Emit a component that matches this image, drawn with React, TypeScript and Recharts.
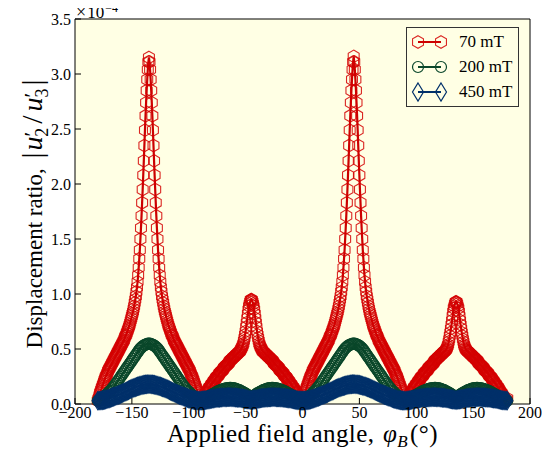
import { LineChart, Line, XAxis, YAxis, CartesianGrid, Legend } from 'recharts'

// field angle, degrees (0.5 deg sampling for the 70 mT sweep)
const anglesFine = [
  -180, -179.5, -179, -178.5, -178, -177.5, -177, -176.5, -176, -175.5, -175, -174.5, -174, -173.5, -173, -172.5, -172, -171.5, -171, -170.5,
  -170, -169.5, -169, -168.5, -168, -167.5, -167, -166.5, -166, -165.5, -165, -164.5, -164, -163.5, -163, -162.5, -162, -161.5, -161, -160.5,
  -160, -159.5, -159, -158.5, -158, -157.5, -157, -156.5, -156, -155.5, -155, -154.5, -154, -153.5, -153, -152.5, -152, -151.5, -151, -150.5,
  -150, -149.5, -149, -148.5, -148, -147.5, -147, -146.5, -146, -145.5, -145, -144.5, -144, -143.5, -143, -142.5, -142, -141.5, -141, -140.5,
  -140, -139.5, -139, -138.5, -138, -137.5, -137, -136.5, -136, -135.5, -135, -134.5, -134, -133.5, -133, -132.5, -132, -131.5, -131, -130.5,
  -130, -129.5, -129, -128.5, -128, -127.5, -127, -126.5, -126, -125.5, -125, -124.5, -124, -123.5, -123, -122.5, -122, -121.5, -121, -120.5,
  -120, -119.5, -119, -118.5, -118, -117.5, -117, -116.5, -116, -115.5, -115, -114.5, -114, -113.5, -113, -112.5, -112, -111.5, -111, -110.5,
  -110, -109.5, -109, -108.5, -108, -107.5, -107, -106.5, -106, -105.5, -105, -104.5, -104, -103.5, -103, -102.5, -102, -101.5, -101, -100.5,
  -100, -99.5, -99, -98.5, -98, -97.5, -97, -96.5, -96, -95.5, -95, -94.5, -94, -93.5, -93, -92.5, -92, -91.5, -91, -90.5,
  -90, -89.5, -89, -88.5, -88, -87.5, -87, -86.5, -86, -85.5, -85, -84.5, -84, -83.5, -83, -82.5, -82, -81.5, -81, -80.5,
  -80, -79.5, -79, -78.5, -78, -77.5, -77, -76.5, -76, -75.5, -75, -74.5, -74, -73.5, -73, -72.5, -72, -71.5, -71, -70.5,
  -70, -69.5, -69, -68.5, -68, -67.5, -67, -66.5, -66, -65.5, -65, -64.5, -64, -63.5, -63, -62.5, -62, -61.5, -61, -60.5,
  -60, -59.5, -59, -58.5, -58, -57.5, -57, -56.5, -56, -55.5, -55, -54.5, -54, -53.5, -53, -52.5, -52, -51.5, -51, -50.5,
  -50, -49.5, -49, -48.5, -48, -47.5, -47, -46.5, -46, -45.5, -45, -44.5, -44, -43.5, -43, -42.5, -42, -41.5, -41, -40.5,
  -40, -39.5, -39, -38.5, -38, -37.5, -37, -36.5, -36, -35.5, -35, -34.5, -34, -33.5, -33, -32.5, -32, -31.5, -31, -30.5,
  -30, -29.5, -29, -28.5, -28, -27.5, -27, -26.5, -26, -25.5, -25, -24.5, -24, -23.5, -23, -22.5, -22, -21.5, -21, -20.5,
  -20, -19.5, -19, -18.5, -18, -17.5, -17, -16.5, -16, -15.5, -15, -14.5, -14, -13.5, -13, -12.5, -12, -11.5, -11, -10.5,
  -10, -9.5, -9, -8.5, -8, -7.5, -7, -6.5, -6, -5.5, -5, -4.5, -4, -3.5, -3, -2.5, -2, -1.5, -1, -0.5,
  0, 0.5, 1, 1.5, 2, 2.5, 3, 3.5, 4, 4.5, 5, 5.5, 6, 6.5, 7, 7.5, 8, 8.5, 9, 9.5,
  10, 10.5, 11, 11.5, 12, 12.5, 13, 13.5, 14, 14.5, 15, 15.5, 16, 16.5, 17, 17.5, 18, 18.5, 19, 19.5,
  20, 20.5, 21, 21.5, 22, 22.5, 23, 23.5, 24, 24.5, 25, 25.5, 26, 26.5, 27, 27.5, 28, 28.5, 29, 29.5,
  30, 30.5, 31, 31.5, 32, 32.5, 33, 33.5, 34, 34.5, 35, 35.5, 36, 36.5, 37, 37.5, 38, 38.5, 39, 39.5,
  40, 40.5, 41, 41.5, 42, 42.5, 43, 43.5, 44, 44.5, 45, 45.5, 46, 46.5, 47, 47.5, 48, 48.5, 49, 49.5,
  50, 50.5, 51, 51.5, 52, 52.5, 53, 53.5, 54, 54.5, 55, 55.5, 56, 56.5, 57, 57.5, 58, 58.5, 59, 59.5,
  60, 60.5, 61, 61.5, 62, 62.5, 63, 63.5, 64, 64.5, 65, 65.5, 66, 66.5, 67, 67.5, 68, 68.5, 69, 69.5,
  70, 70.5, 71, 71.5, 72, 72.5, 73, 73.5, 74, 74.5, 75, 75.5, 76, 76.5, 77, 77.5, 78, 78.5, 79, 79.5,
  80, 80.5, 81, 81.5, 82, 82.5, 83, 83.5, 84, 84.5, 85, 85.5, 86, 86.5, 87, 87.5, 88, 88.5, 89, 89.5,
  90, 90.5, 91, 91.5, 92, 92.5, 93, 93.5, 94, 94.5, 95, 95.5, 96, 96.5, 97, 97.5, 98, 98.5, 99, 99.5,
  100, 100.5, 101, 101.5, 102, 102.5, 103, 103.5, 104, 104.5, 105, 105.5, 106, 106.5, 107, 107.5, 108, 108.5, 109, 109.5,
  110, 110.5, 111, 111.5, 112, 112.5, 113, 113.5, 114, 114.5, 115, 115.5, 116, 116.5, 117, 117.5, 118, 118.5, 119, 119.5,
  120, 120.5, 121, 121.5, 122, 122.5, 123, 123.5, 124, 124.5, 125, 125.5, 126, 126.5, 127, 127.5, 128, 128.5, 129, 129.5,
  130, 130.5, 131, 131.5, 132, 132.5, 133, 133.5, 134, 134.5, 135, 135.5, 136, 136.5, 137, 137.5, 138, 138.5, 139, 139.5,
  140, 140.5, 141, 141.5, 142, 142.5, 143, 143.5, 144, 144.5, 145, 145.5, 146, 146.5, 147, 147.5, 148, 148.5, 149, 149.5,
  150, 150.5, 151, 151.5, 152, 152.5, 153, 153.5, 154, 154.5, 155, 155.5, 156, 156.5, 157, 157.5, 158, 158.5, 159, 159.5,
  160, 160.5, 161, 161.5, 162, 162.5, 163, 163.5, 164, 164.5, 165, 165.5, 166, 166.5, 167, 167.5, 168, 168.5, 169, 169.5,
  170, 170.5, 171, 171.5, 172, 172.5, 173, 173.5, 174, 174.5, 175, 175.5, 176, 176.5, 177, 177.5, 178, 178.5, 179, 179.5,
  180,
]

// field angle, degrees (1 deg sampling for 200 mT and 450 mT)
const angles = [
  -180, -179, -178, -177, -176, -175, -174, -173, -172, -171, -170, -169, -168, -167, -166, -165, -164, -163, -162, -161,
  -160, -159, -158, -157, -156, -155, -154, -153, -152, -151, -150, -149, -148, -147, -146, -145, -144, -143, -142, -141,
  -140, -139, -138, -137, -136, -135, -134, -133, -132, -131, -130, -129, -128, -127, -126, -125, -124, -123, -122, -121,
  -120, -119, -118, -117, -116, -115, -114, -113, -112, -111, -110, -109, -108, -107, -106, -105, -104, -103, -102, -101,
  -100, -99, -98, -97, -96, -95, -94, -93, -92, -91, -90, -89, -88, -87, -86, -85, -84, -83, -82, -81,
  -80, -79, -78, -77, -76, -75, -74, -73, -72, -71, -70, -69, -68, -67, -66, -65, -64, -63, -62, -61,
  -60, -59, -58, -57, -56, -55, -54, -53, -52, -51, -50, -49, -48, -47, -46, -45, -44, -43, -42, -41,
  -40, -39, -38, -37, -36, -35, -34, -33, -32, -31, -30, -29, -28, -27, -26, -25, -24, -23, -22, -21,
  -20, -19, -18, -17, -16, -15, -14, -13, -12, -11, -10, -9, -8, -7, -6, -5, -4, -3, -2, -1,
  0, 1, 2, 3, 4, 5, 6, 7, 8, 9, 10, 11, 12, 13, 14, 15, 16, 17, 18, 19,
  20, 21, 22, 23, 24, 25, 26, 27, 28, 29, 30, 31, 32, 33, 34, 35, 36, 37, 38, 39,
  40, 41, 42, 43, 44, 45, 46, 47, 48, 49, 50, 51, 52, 53, 54, 55, 56, 57, 58, 59,
  60, 61, 62, 63, 64, 65, 66, 67, 68, 69, 70, 71, 72, 73, 74, 75, 76, 77, 78, 79,
  80, 81, 82, 83, 84, 85, 86, 87, 88, 89, 90, 91, 92, 93, 94, 95, 96, 97, 98, 99,
  100, 101, 102, 103, 104, 105, 106, 107, 108, 109, 110, 111, 112, 113, 114, 115, 116, 117, 118, 119,
  120, 121, 122, 123, 124, 125, 126, 127, 128, 129, 130, 131, 132, 133, 134, 135, 136, 137, 138, 139,
  140, 141, 142, 143, 144, 145, 146, 147, 148, 149, 150, 151, 152, 153, 154, 155, 156, 157, 158, 159,
  160, 161, 162, 163, 164, 165, 166, 167, 168, 169, 170, 171, 172, 173, 174, 175, 176, 177, 178, 179,
  180,
]

// |u2'/u3'| in units of 1e-4, 70 mT (on anglesFine)
const red70 = [
  // -180 .. -135
  0.03, 0.045, 0.06, 0.08, 0.10, 0.115, 0.13, 0.145, 0.16, 0.175,
  0.19, 0.205, 0.22, 0.235, 0.25, 0.26, 0.27, 0.285, 0.30, 0.31,
  0.32, 0.33, 0.34, 0.35, 0.36, 0.37, 0.38, 0.39, 0.40, 0.41,
  0.42, 0.43, 0.44, 0.45, 0.46, 0.47, 0.48, 0.49, 0.50, 0.51,
  0.52, 0.53, 0.54, 0.55, 0.56, 0.57, 0.58, 0.595, 0.61, 0.62,
  0.63, 0.645, 0.66, 0.675, 0.69, 0.705, 0.72, 0.74, 0.76, 0.78,
  0.80, 0.82, 0.84, 0.865, 0.89, 0.92, 0.95, 0.98, 1.02, 1.06,
  1.11, 1.17, 1.24, 1.32, 1.40, 1.50, 1.60, 1.71, 1.83, 1.95,
  2.08, 2.21, 2.35, 2.49, 2.62, 2.74, 2.85, 2.95, 3.04, 3.11,
  3.15,
  // -134.5 .. -90
  3.11, 3.04, 2.95, 2.85, 2.74, 2.62, 2.49, 2.35, 2.21, 2.08,
  1.95, 1.83, 1.71, 1.60, 1.50, 1.40, 1.32, 1.24, 1.17, 1.11,
  1.06, 1.02, 0.98, 0.95, 0.92, 0.89, 0.865, 0.84, 0.82, 0.80,
  0.78, 0.76, 0.74, 0.72, 0.705, 0.69, 0.675, 0.66, 0.645, 0.63,
  0.62, 0.61, 0.595, 0.58, 0.57, 0.56, 0.55, 0.54, 0.53, 0.52,
  0.51, 0.50, 0.49, 0.48, 0.47, 0.46, 0.45, 0.44, 0.43, 0.42,
  0.41, 0.40, 0.39, 0.38, 0.37, 0.36, 0.35, 0.34, 0.33, 0.32,
  0.31, 0.30, 0.285, 0.27, 0.26, 0.25, 0.235, 0.22, 0.205, 0.19,
  0.175, 0.16, 0.145, 0.13, 0.115, 0.10, 0.08, 0.06, 0.045, 0.03,
  // -89.5 .. -45
  0.025, 0.03, 0.04, 0.05, 0.055, 0.06, 0.07, 0.08, 0.09, 0.10,
  0.105, 0.11, 0.12, 0.13, 0.14, 0.15, 0.155, 0.16, 0.17, 0.18,
  0.185, 0.19, 0.20, 0.21, 0.215, 0.22, 0.23, 0.24, 0.245, 0.25,
  0.255, 0.26, 0.27, 0.28, 0.285, 0.29, 0.295, 0.30, 0.305, 0.31,
  0.32, 0.33, 0.335, 0.34, 0.345, 0.35, 0.355, 0.36, 0.365, 0.37,
  0.38, 0.39, 0.395, 0.40, 0.405, 0.41, 0.415, 0.42, 0.425, 0.43,
  0.435, 0.44, 0.445, 0.45, 0.455, 0.46, 0.465, 0.47, 0.475, 0.48,
  0.49, 0.50, 0.51, 0.52, 0.535, 0.55, 0.575, 0.60, 0.63, 0.66,
  0.70, 0.74, 0.78, 0.82, 0.86, 0.89, 0.91, 0.93, 0.945, 0.95,
  // -44.5 .. 0
  0.945, 0.93, 0.91, 0.89, 0.86, 0.82, 0.78, 0.74, 0.70, 0.66,
  0.63, 0.60, 0.575, 0.55, 0.535, 0.52, 0.51, 0.50, 0.49, 0.48,
  0.475, 0.47, 0.465, 0.46, 0.455, 0.45, 0.445, 0.44, 0.435, 0.43,
  0.425, 0.42, 0.415, 0.41, 0.405, 0.40, 0.395, 0.39, 0.38, 0.37,
  0.365, 0.36, 0.355, 0.35, 0.345, 0.34, 0.335, 0.33, 0.32, 0.31,
  0.305, 0.30, 0.295, 0.29, 0.285, 0.28, 0.27, 0.26, 0.255, 0.25,
  0.245, 0.24, 0.23, 0.22, 0.215, 0.21, 0.20, 0.19, 0.185, 0.18,
  0.17, 0.16, 0.155, 0.15, 0.14, 0.13, 0.12, 0.11, 0.105, 0.10,
  0.09, 0.08, 0.07, 0.06, 0.055, 0.05, 0.04, 0.03, 0.025, 0.02,
  // 0.5 .. 45
  0.045, 0.06, 0.08, 0.10, 0.115, 0.13, 0.145, 0.16, 0.175, 0.19,
  0.205, 0.22, 0.235, 0.25, 0.26, 0.27, 0.285, 0.30, 0.31, 0.32,
  0.33, 0.34, 0.35, 0.36, 0.37, 0.38, 0.39, 0.40, 0.41, 0.42,
  0.43, 0.44, 0.45, 0.46, 0.47, 0.48, 0.49, 0.50, 0.51, 0.52,
  0.53, 0.54, 0.55, 0.56, 0.57, 0.58, 0.595, 0.61, 0.62, 0.63,
  0.645, 0.66, 0.675, 0.69, 0.705, 0.72, 0.74, 0.76, 0.78, 0.80,
  0.82, 0.84, 0.865, 0.89, 0.92, 0.95, 0.98, 1.02, 1.06, 1.11,
  1.17, 1.24, 1.32, 1.40, 1.50, 1.60, 1.71, 1.83, 1.95, 2.08,
  2.21, 2.35, 2.49, 2.62, 2.74, 2.85, 2.95, 3.04, 3.11, 3.16,
  // 45.5 .. 90
  3.11, 3.04, 2.95, 2.85, 2.74, 2.62, 2.49, 2.35, 2.21, 2.08,
  1.95, 1.83, 1.71, 1.60, 1.50, 1.40, 1.32, 1.24, 1.17, 1.11,
  1.06, 1.02, 0.98, 0.95, 0.92, 0.89, 0.865, 0.84, 0.82, 0.80,
  0.78, 0.76, 0.74, 0.72, 0.705, 0.69, 0.675, 0.66, 0.645, 0.63,
  0.62, 0.61, 0.595, 0.58, 0.57, 0.56, 0.55, 0.54, 0.53, 0.52,
  0.51, 0.50, 0.49, 0.48, 0.47, 0.46, 0.45, 0.44, 0.43, 0.42,
  0.41, 0.40, 0.39, 0.38, 0.37, 0.36, 0.35, 0.34, 0.33, 0.32,
  0.31, 0.30, 0.285, 0.27, 0.26, 0.25, 0.235, 0.22, 0.205, 0.19,
  0.175, 0.16, 0.145, 0.13, 0.115, 0.10, 0.08, 0.06, 0.045, 0.03,
  // 90.5 .. 135
  0.025, 0.03, 0.04, 0.05, 0.055, 0.06, 0.07, 0.08, 0.09, 0.10,
  0.105, 0.11, 0.12, 0.13, 0.14, 0.15, 0.155, 0.16, 0.17, 0.18,
  0.185, 0.19, 0.20, 0.21, 0.215, 0.22, 0.23, 0.24, 0.245, 0.25,
  0.255, 0.26, 0.27, 0.28, 0.285, 0.29, 0.295, 0.30, 0.305, 0.31,
  0.32, 0.33, 0.335, 0.34, 0.345, 0.35, 0.355, 0.36, 0.365, 0.37,
  0.38, 0.39, 0.395, 0.40, 0.405, 0.41, 0.415, 0.42, 0.425, 0.43,
  0.435, 0.44, 0.445, 0.45, 0.455, 0.46, 0.465, 0.47, 0.475, 0.48,
  0.485, 0.49, 0.50, 0.51, 0.525, 0.54, 0.565, 0.59, 0.62, 0.65,
  0.685, 0.72, 0.76, 0.80, 0.84, 0.87, 0.89, 0.91, 0.925, 0.93,
  // 135.5 .. 180
  0.925, 0.91, 0.89, 0.87, 0.84, 0.80, 0.76, 0.72, 0.685, 0.65,
  0.62, 0.59, 0.565, 0.54, 0.525, 0.51, 0.50, 0.49, 0.485, 0.48,
  0.475, 0.47, 0.465, 0.46, 0.455, 0.45, 0.445, 0.44, 0.435, 0.43,
  0.425, 0.42, 0.415, 0.41, 0.405, 0.40, 0.395, 0.39, 0.38, 0.37,
  0.365, 0.36, 0.355, 0.35, 0.345, 0.34, 0.335, 0.33, 0.32, 0.31,
  0.305, 0.30, 0.295, 0.29, 0.285, 0.28, 0.27, 0.26, 0.255, 0.25,
  0.245, 0.24, 0.23, 0.22, 0.215, 0.21, 0.20, 0.19, 0.185, 0.18,
  0.17, 0.16, 0.155, 0.15, 0.14, 0.13, 0.12, 0.11, 0.105, 0.10,
  0.09, 0.08, 0.07, 0.06, 0.05, 0.04, 0.03, 0.03, 0.04, 0.05,
]

// 200 mT (on angles)
const green200 = [
  // -180 .. -135
  0.03, 0.035, 0.04, 0.045, 0.052, 0.06, 0.07, 0.08, 0.09, 0.10,
  0.11, 0.12, 0.132, 0.145, 0.157, 0.17, 0.185, 0.20, 0.215, 0.23,
  0.245, 0.26, 0.275, 0.29, 0.305, 0.32, 0.335, 0.35, 0.365, 0.38,
  0.395, 0.41, 0.425, 0.44, 0.455, 0.47, 0.485, 0.50, 0.51, 0.52,
  0.528, 0.535, 0.54, 0.545, 0.548, 0.55,
  // -134 .. -90
  0.548, 0.545, 0.54, 0.535, 0.528, 0.52, 0.51, 0.50, 0.485, 0.47,
  0.455, 0.44, 0.425, 0.41, 0.395, 0.38, 0.365, 0.35, 0.335, 0.32,
  0.305, 0.29, 0.275, 0.26, 0.245, 0.23, 0.215, 0.20, 0.185, 0.17,
  0.157, 0.145, 0.132, 0.12, 0.11, 0.10, 0.09, 0.08, 0.07, 0.06,
  0.052, 0.045, 0.04, 0.035, 0.03,
  // -89 .. -45
  0.033, 0.037, 0.042, 0.047, 0.053, 0.059, 0.065, 0.071, 0.077, 0.083,
  0.089, 0.095, 0.101, 0.107, 0.112, 0.117, 0.122, 0.126, 0.13, 0.134,
  0.137, 0.14, 0.142, 0.144, 0.145, 0.146, 0.146, 0.145, 0.144, 0.142,
  0.139, 0.136, 0.132, 0.128, 0.123, 0.118, 0.113, 0.107, 0.101, 0.095,
  0.088, 0.081, 0.074, 0.067, 0.06,
  // -44 .. 0
  0.067, 0.074, 0.081, 0.088, 0.095, 0.101, 0.107, 0.113, 0.118, 0.123,
  0.128, 0.132, 0.136, 0.139, 0.142, 0.144, 0.145, 0.146, 0.146, 0.145,
  0.144, 0.142, 0.14, 0.137, 0.134, 0.13, 0.126, 0.122, 0.117, 0.112,
  0.107, 0.101, 0.095, 0.089, 0.083, 0.077, 0.071, 0.065, 0.059, 0.053,
  0.047, 0.042, 0.037, 0.033, 0.03,
  // 1 .. 45
  0.035, 0.04, 0.045, 0.052, 0.06, 0.07, 0.08, 0.09, 0.10, 0.11,
  0.12, 0.132, 0.145, 0.157, 0.17, 0.185, 0.20, 0.215, 0.23, 0.245,
  0.26, 0.275, 0.29, 0.305, 0.32, 0.335, 0.35, 0.365, 0.38, 0.395,
  0.41, 0.425, 0.44, 0.455, 0.47, 0.485, 0.50, 0.51, 0.52, 0.528,
  0.535, 0.54, 0.545, 0.548, 0.55,
  // 46 .. 90
  0.548, 0.545, 0.54, 0.535, 0.528, 0.52, 0.51, 0.50, 0.485, 0.47,
  0.455, 0.44, 0.425, 0.41, 0.395, 0.38, 0.365, 0.35, 0.335, 0.32,
  0.305, 0.29, 0.275, 0.26, 0.245, 0.23, 0.215, 0.20, 0.185, 0.17,
  0.157, 0.145, 0.132, 0.12, 0.11, 0.10, 0.09, 0.08, 0.07, 0.06,
  0.052, 0.045, 0.04, 0.035, 0.03,
  // 91 .. 135
  0.033, 0.037, 0.042, 0.047, 0.053, 0.059, 0.065, 0.071, 0.077, 0.083,
  0.089, 0.095, 0.101, 0.107, 0.112, 0.117, 0.122, 0.126, 0.13, 0.134,
  0.137, 0.14, 0.142, 0.144, 0.145, 0.146, 0.146, 0.145, 0.144, 0.142,
  0.139, 0.136, 0.132, 0.128, 0.123, 0.118, 0.113, 0.107, 0.101, 0.095,
  0.088, 0.081, 0.074, 0.067, 0.06,
  // 136 .. 180
  0.067, 0.074, 0.081, 0.088, 0.095, 0.101, 0.107, 0.113, 0.118, 0.123,
  0.128, 0.132, 0.136, 0.139, 0.142, 0.144, 0.145, 0.146, 0.146, 0.145,
  0.144, 0.142, 0.14, 0.137, 0.134, 0.13, 0.126, 0.122, 0.117, 0.112,
  0.107, 0.101, 0.095, 0.089, 0.083, 0.077, 0.071, 0.065, 0.059, 0.053,
  0.047, 0.042, 0.037, 0.033, 0.03,
]

// 450 mT (on angles)
const blue450 = [
  // -180 .. -135
  0.03, 0.031, 0.032, 0.033, 0.034, 0.035, 0.038, 0.041, 0.044, 0.047,
  0.05, 0.054, 0.058, 0.062, 0.066, 0.07, 0.074, 0.078, 0.082, 0.086,
  0.09, 0.095, 0.1, 0.105, 0.11, 0.115, 0.12, 0.125, 0.13, 0.135,
  0.14, 0.144, 0.148, 0.152, 0.156, 0.16, 0.163, 0.166, 0.169, 0.172,
  0.175, 0.177, 0.178, 0.179, 0.18, 0.18,
  // -134 .. -90
  0.18, 0.179, 0.178, 0.177, 0.175, 0.172, 0.169, 0.166, 0.163, 0.16,
  0.156, 0.152, 0.148, 0.144, 0.14, 0.135, 0.13, 0.125, 0.12, 0.115,
  0.11, 0.105, 0.1, 0.095, 0.09, 0.086, 0.082, 0.078, 0.074, 0.07,
  0.066, 0.062, 0.058, 0.054, 0.05, 0.047, 0.044, 0.041, 0.038, 0.035,
  0.034, 0.033, 0.032, 0.031, 0.03,
  // -89 .. -45
  0.031, 0.032, 0.033, 0.034, 0.036, 0.038, 0.04, 0.042, 0.044, 0.046,
  0.048, 0.05, 0.052, 0.053, 0.055, 0.056, 0.057, 0.058, 0.059, 0.06,
  0.06, 0.061, 0.061, 0.062, 0.062, 0.062, 0.062, 0.061, 0.061, 0.06,
  0.059, 0.058, 0.057, 0.056, 0.055, 0.053, 0.051, 0.049, 0.047, 0.045,
  0.043, 0.041, 0.039, 0.037, 0.035,
  // -44 .. 0
  0.037, 0.039, 0.041, 0.043, 0.045, 0.047, 0.049, 0.051, 0.053, 0.055,
  0.056, 0.057, 0.058, 0.059, 0.06, 0.061, 0.061, 0.062, 0.062, 0.062,
  0.062, 0.061, 0.061, 0.06, 0.06, 0.059, 0.058, 0.057, 0.056, 0.055,
  0.053, 0.052, 0.05, 0.048, 0.046, 0.044, 0.042, 0.04, 0.038, 0.036,
  0.034, 0.033, 0.032, 0.031, 0.03,
  // 1 .. 45
  0.031, 0.032, 0.033, 0.034, 0.035, 0.038, 0.041, 0.044, 0.047, 0.05,
  0.054, 0.058, 0.062, 0.066, 0.07, 0.074, 0.078, 0.082, 0.086, 0.09,
  0.095, 0.1, 0.105, 0.11, 0.115, 0.12, 0.125, 0.13, 0.135, 0.14,
  0.144, 0.148, 0.152, 0.156, 0.16, 0.163, 0.166, 0.169, 0.172, 0.175,
  0.177, 0.178, 0.179, 0.18, 0.18,
  // 46 .. 90
  0.18, 0.179, 0.178, 0.177, 0.175, 0.172, 0.169, 0.166, 0.163, 0.16,
  0.156, 0.152, 0.148, 0.144, 0.14, 0.135, 0.13, 0.125, 0.12, 0.115,
  0.11, 0.105, 0.1, 0.095, 0.09, 0.086, 0.082, 0.078, 0.074, 0.07,
  0.066, 0.062, 0.058, 0.054, 0.05, 0.047, 0.044, 0.041, 0.038, 0.035,
  0.034, 0.033, 0.032, 0.031, 0.03,
  // 91 .. 135
  0.031, 0.032, 0.033, 0.034, 0.036, 0.038, 0.04, 0.042, 0.044, 0.046,
  0.048, 0.05, 0.052, 0.053, 0.055, 0.056, 0.057, 0.058, 0.059, 0.06,
  0.06, 0.061, 0.061, 0.062, 0.062, 0.062, 0.062, 0.061, 0.061, 0.06,
  0.059, 0.058, 0.057, 0.056, 0.055, 0.053, 0.051, 0.049, 0.047, 0.045,
  0.043, 0.041, 0.039, 0.037, 0.035,
  // 136 .. 180
  0.037, 0.039, 0.041, 0.043, 0.045, 0.047, 0.049, 0.051, 0.053, 0.055,
  0.056, 0.057, 0.058, 0.059, 0.06, 0.061, 0.061, 0.062, 0.062, 0.062,
  0.062, 0.061, 0.061, 0.06, 0.06, 0.059, 0.058, 0.057, 0.056, 0.055,
  0.053, 0.052, 0.05, 0.048, 0.046, 0.044, 0.042, 0.04, 0.038, 0.036,
  0.034, 0.033, 0.032, 0.031, 0.03,
]

const seriesNames = ['70 mT', '200 mT', '450 mT']
const xTicks = [-200, -150, -100, -50, 0, 50, 100, 150, 200]
const yTicks = [0, 0.5, 1, 1.5, 2, 2.5, 3, 3.5]

const redData = anglesFine.map((a, i) => ({ angle: a, v: red70[i] }))
const greenData = angles.map((a, i) => ({ angle: a, v: green200[i] }))
const blueData = angles.map((a, i) => ({ angle: a, v: blue450[i] }))

const RED = '#d40000'
const GREEN = '#0a472a'
const BLUE = '#00306a'
const FONT = '"Liberation Serif", "Times New Roman", serif'

function Hexagon({ cx, cy }: any) {
  const r = 6.3
  const pts = [0, 1, 2, 3, 4, 5]
    .map((k) => {
      const a = ((-90 + 60 * k) * Math.PI) / 180
      return `${cx + r * Math.cos(a)},${cy + r * Math.sin(a)}`
    })
    .join(' ')
  return <polygon points={pts} fill="none" stroke={RED} strokeWidth={1.1} strokeOpacity={0.85} />
}

function Ring({ cx, cy }: any) {
  return <circle cx={cx} cy={cy} r={5.5} fill="none" stroke={GREEN} strokeWidth={1.2} />
}

function Diamond({ cx, cy }: any) {
  const pts = `${cx},${cy - 9} ${cx + 5.5},${cy} ${cx},${cy + 9} ${cx - 5.5},${cy}`
  return <polygon points={pts} fill="none" stroke={BLUE} strokeWidth={1.2} />
}

const markers: Record<string, any> = { '70 mT': Hexagon, '200 mT': Ring, '450 mT': Diamond }

const dotFor = (name: string) => (p: any) => {
  const M = markers[name]
  if (p.cx == null || p.cy == null) return <g key={`${name}-${p.index}`} />
  return <M key={`${name}-${p.index}`} cx={p.cx} cy={p.cy} />
}

const fmtX = (v: number) => (v < 0 ? `\u2212${Math.abs(v)}` : `${v}`)

function LegendBox({ payload }: any) {
  const items = seriesNames
    .map((n) => (payload || []).find((p: any) => p.value === n))
    .filter(Boolean)
  return (
    <div
      style={{
        border: '1px solid #333',
        background: '#ffffe4',
        width: 113,
        height: 80,
        boxSizing: 'border-box',
        paddingTop: 1,
        fontFamily: FONT,
      }}
    >
      {items.map((item: any) => {
        const M = markers[item.value]
        return (
          <div key={item.value} style={{ display: 'flex', alignItems: 'center', height: 25 }}>
            <svg width={46} height={22} style={{ display: 'block' }}>
              <line x1={11} x2={34} y1={11} y2={11} stroke={item.color} strokeWidth={2} />
              <M cx={11} cy={11} />
              <M cx={34} cy={11} />
            </svg>
            <span style={{ fontSize: 17, marginLeft: 6, color: '#000' }}>{item.value}</span>
          </div>
        )
      })}
    </div>
  )
}

function XTitle(props: any) {
  const { x, y, width } = props.viewBox
  return (
    <text x={x + width / 2} y={y + 38} textAnchor="middle" fontSize={25} fontFamily={FONT} fill="#000" letterSpacing={0.4}>
      Applied field angle,{' '}
      <tspan fontStyle="italic" dx={2}>φ</tspan>
      <tspan fontStyle="italic" fontSize={17} dy={5}>B</tspan>
      <tspan dy={-5} dx={2}>(°)</tspan>
    </text>
  )
}

function YTitle(props: any) {
  const { x, y, width, height } = props.viewBox
  const cx = x + 42
  const cy = y + height / 2 + 2.5
  return (
    <g>
      <text
        x={cx}
        y={cy}
        transform={`rotate(-90 ${cx} ${cy})`}
        textAnchor="middle"
        fontSize={23}
        fontFamily={FONT}
        fill="#000"
      >
        Displacement ratio,{' '}
        <tspan fontSize={30} dx={4}>|</tspan>
        <tspan fontSize={28} fontStyle="italic" dx={2}>u</tspan>
        <tspan fontSize={22} dy={-3}>′</tspan>
        <tspan fontSize={18} dy={9} dx={-5}>2</tspan>
        <tspan fontSize={30} dy={-6} dx={4}>/</tspan>
        <tspan fontSize={28} fontStyle="italic" dx={4}>u</tspan>
        <tspan fontSize={22} dy={-3}>′</tspan>
        <tspan fontSize={18} dy={9} dx={-5}>3</tspan>
        <tspan fontSize={30} dy={-6} dx={3}>|</tspan>
      </text>
      <text x={x + width + 1} y={y - 1} fontSize={17} fontFamily={FONT} fill="#000">
        <tspan fontSize={18}>×</tspan>
        <tspan dx={1}>10</tspan>
        <tspan fontSize={12} dy={-6} dx={1}>−4</tspan>
      </text>
    </g>
  )
}

export default function App() {
  return (
    <div style={{ margin: -8, width: 550, height: 456, background: '#fff', fontFamily: FONT }}>
      <LineChart width={550} height={456} margin={{ top: 18, right: 19, bottom: 0, left: 0 }}>
        <CartesianGrid fill="#ffffe4" stroke="none" horizontal={false} vertical={false} />
        <XAxis
          dataKey="angle"
          type="number"
          domain={[-200, 200]}
          ticks={xTicks}
          interval={0}
          height={52}
          tickSize={-6}
          tickMargin={9}
          tickFormatter={fmtX}
          axisLine={{ stroke: '#000' }}
          tickLine={{ stroke: '#000' }}
          tick={{ fontSize: 16, fill: '#000', fontFamily: FONT }}
          label={XTitle}
        />
        <XAxis
          xAxisId="top"
          orientation="top"
          type="number"
          domain={[-200, 200]}
          ticks={xTicks}
          interval={0}
          height={1}
          tickSize={-6}
          tick={false}
          axisLine={{ stroke: '#000' }}
          tickLine={{ stroke: '#000' }}
        />
        <YAxis
          type="number"
          domain={[0, 3.5]}
          ticks={yTicks}
          interval={0}
          width={75}
          tickSize={-6}
          tickMargin={10}
          tickFormatter={(v: number) => v.toFixed(1)}
          axisLine={{ stroke: '#000' }}
          tickLine={{ stroke: '#000' }}
          tick={{ fontSize: 16, fill: '#000', fontFamily: FONT }}
          label={YTitle}
        />
        <YAxis
          yAxisId="right"
          orientation="right"
          type="number"
          domain={[0, 3.5]}
          ticks={yTicks}
          interval={0}
          width={1}
          tickSize={-6}
          tick={false}
          axisLine={{ stroke: '#000' }}
          tickLine={{ stroke: '#000' }}
        />
        <Legend
          layout="horizontal"
          verticalAlign="middle"
          align="center"
          wrapperStyle={{ top: 27, left: 406, width: 113, height: 80 }}
          content={LegendBox}
        />
        <Line
          type="linear"
          data={redData}
          dataKey="v"
          name={seriesNames[0]}
          stroke="#cc0000"
          strokeWidth={2.2}
          dot={dotFor(seriesNames[0])}
          activeDot={false}
          isAnimationActive={false}
        />
        <Line
          type="linear"
          data={greenData}
          dataKey="v"
          name={seriesNames[1]}
          stroke={GREEN}
          strokeWidth={2}
          dot={dotFor(seriesNames[1])}
          activeDot={false}
          isAnimationActive={false}
        />
        <Line
          type="linear"
          data={blueData}
          dataKey="v"
          name={seriesNames[2]}
          stroke={BLUE}
          strokeWidth={2}
          dot={dotFor(seriesNames[2])}
          activeDot={false}
          isAnimationActive={false}
        />
      </LineChart>
    </div>
  )
}
